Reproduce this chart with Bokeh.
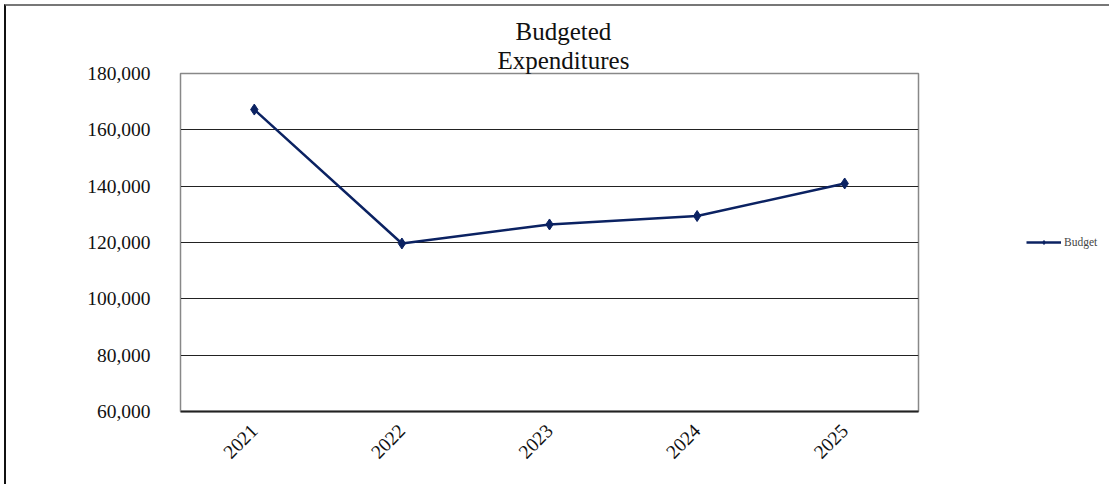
import math
from bokeh.plotting import figure
from bokeh.models import (Range1d, FactorRange, FixedTicker, NumeralTickFormatter,
                          Legend, LegendItem, Title)
from bokeh.embed import file_html
from bokeh.resources import INLINE

years = ["2021", "2022", "2023", "2024", "2025"]
budget = [167200, 119650, 126400, 129400, 140950]
y_ticks = [60000, 80000, 100000, 120000, 140000, 160000, 180000]
title_lines = ["Budgeted", "Expenditures"]
series_name = "Budget"

FONT = "Liberation Serif"
NAVY = "#0b2262"

p = figure(frame_width=738, frame_height=338, x_range=FactorRange(*years),
           y_range=Range1d(60000, 180000), output_backend="svg",
           toolbar_location=None, min_border_left=174, min_border_right=177,
           min_border_top=67, min_border_bottom=73)
p.styles = {"margin-left": "4px", "margin-top": "4px",
            "border-left": "2px solid #111111", "border-top": "2px solid #777777"}

p.outline_line_color = "#888888"
p.outline_line_width = 1.5
p.xgrid.grid_line_color = None
p.ygrid.grid_line_color = "#222222"
p.ygrid.grid_line_width = 1

p.yaxis.ticker = FixedTicker(ticks=y_ticks)
p.yaxis.formatter = NumeralTickFormatter(format="0,0")
p.yaxis.major_label_text_font = FONT
p.yaxis.major_label_text_font_size = "19.5px"
p.yaxis.major_label_text_color = "#111111"
p.yaxis.axis_line_color = "#888888"
p.yaxis.major_tick_line_color = None
p.yaxis.minor_tick_line_color = None
p.yaxis.major_label_standoff = 24

p.xaxis.major_label_orientation = math.pi / 4
p.xaxis.major_label_text_font = FONT
p.xaxis.major_label_text_font_size = "19.5px"
p.xaxis.major_label_text_color = "#111111"
p.xaxis.axis_line_color = "#222222"
p.xaxis.axis_line_width = 2
p.xaxis.major_tick_line_color = None
p.xaxis.minor_tick_line_color = None
p.xaxis.major_label_standoff = 10

ln = p.line(years, budget, line_color=NAVY, line_width=2.5)
sc = p.scatter(years, budget, marker="diamond", size=11, fill_color=NAVY,
               line_color=NAVY)

legend = Legend(items=[LegendItem(label=series_name, renderers=[ln, sc])],
                location=(108, 163), border_line_color=None,
                background_fill_alpha=0, label_text_font=FONT,
                label_text_font_size="11.5px", glyph_width=35, glyph_height=10,
                label_standoff=3, padding=0, margin=0)
p.add_layout(legend, "right")

for t, off in reversed(list(zip(title_lines, [335, 317]))):
    p.add_layout(Title(text=t, align="left", offset=off, standoff=0,
                       text_font=FONT, text_font_size="25px",
                       text_font_style="normal", text_color="#111111"), "above")

open("out.html", "w").write(file_html(p, INLINE))
